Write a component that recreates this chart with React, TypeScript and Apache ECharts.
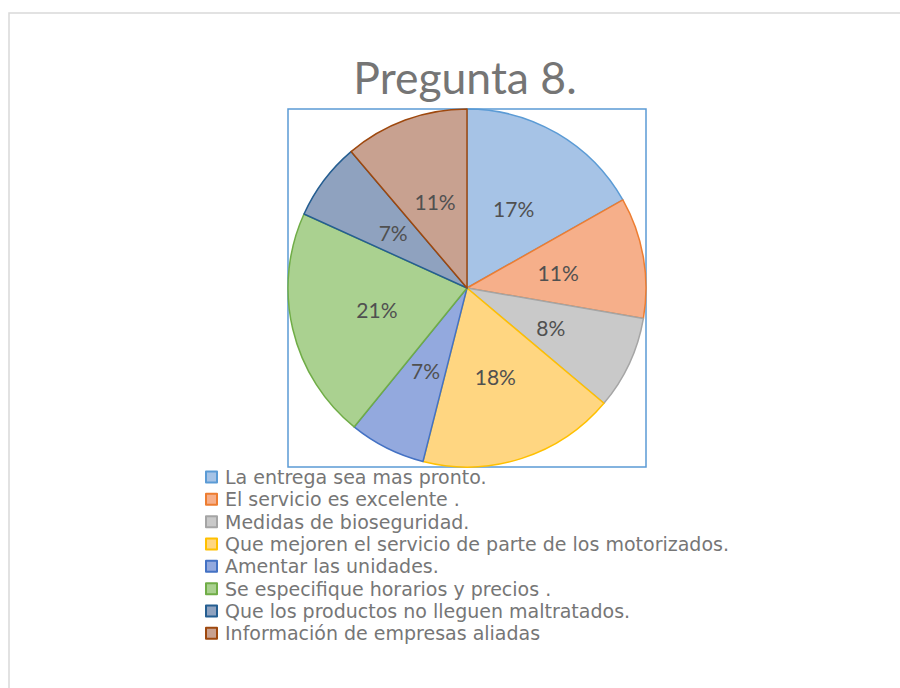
import React, { useEffect, useRef } from "react";
import * as echarts from "echarts";

const titleText = "Pregunta 8.";
const categories = [
  "La entrega sea mas pronto.",
  "El servicio es excelente .",
  "Medidas de bioseguridad.",
  "Que mejoren el servicio de parte de los motorizados.",
  "Amentar las unidades.",
  "Se especifique horarios y precios .",
  "Que los productos no lleguen maltratados.",
  "Información de empresas aliadas",
];
const values = [16.8, 10.9, 8.4, 17.8, 6.9, 20.9, 7.0, 11.2];
const fillColors = ["#A6C3E6", "#F6AF8A", "#C9C9C9", "#FFD681", "#93A9DE", "#AAD190", "#8FA2BF", "#C8A190"];
const edgeColors = ["#5B9BD5", "#ED7D31", "#A5A5A5", "#FFC000", "#4472C4", "#70AD47", "#255E91", "#9E480E"];

export default function App() {
  const ref = useRef<HTMLDivElement>(null);
  useEffect(() => {
    if (!ref.current) return;
    const chart = echarts.init(ref.current, undefined, { renderer: "svg" });
    chart.setOption({
      animation: false,
      backgroundColor: "#ffffff",
      graphic: [
        {
          type: "rect",
          z: -10,
          shape: { x: 9, y: 13, width: 960, height: 760 },
          style: { fill: "#ffffff", stroke: "#D9D9D9", lineWidth: 1.5 },
        },
        {
          type: "rect",
          z: -5,
          shape: { x: 288, y: 109, width: 358, height: 358 },
          style: { fill: "none", stroke: "#5B9BD5", lineWidth: 1.5 },
        },
        {
          type: "text",
          x: 465,
          y: 76,
          style: {
            text: titleText,
            fill: "#757575",
            font: "44.5px Lato, 'Open Sans', sans-serif",
            textAlign: "center",
            textVerticalAlign: "middle",
          },
        },
      ],
      legend: {
        orient: "vertical",
        left: 200,
        top: 461,
        itemWidth: 11,
        itemHeight: 11,
        itemGap: 0.33,
        icon: "rect",
        textStyle: {
          fontFamily: "'DejaVu Sans', 'Open Sans', sans-serif",
          fontSize: 19,
          color: "#767676",
          lineHeight: 22,
          padding: [0, 0, 0, 3],
        },
        data: categories,
      },
      series: [
        {
          type: "pie",
          center: [467, 288],
          radius: 179,
          startAngle: 90,
          clockwise: true,
          label: {
            show: true,
            position: "inside",
            fontFamily: "Lato, 'Open Sans', sans-serif",
            fontSize: 21,
            color: "#505050",
            formatter: (p: any) => Math.round(p.percent) + "%",
          },
          labelLine: { show: false },
          emphasis: { disabled: true },
          data: categories.map((c, i) => ({
            name: c,
            value: values[i],
            itemStyle: { color: fillColors[i], borderColor: edgeColors[i], borderWidth: 1.5 },
          })),
        },
      ],
    });
    return () => chart.dispose();
  }, []);
  return (
    <div
      ref={ref}
      style={{ position: "fixed", left: 0, top: 0, width: 900, height: 688 }}
    />
  );
}
